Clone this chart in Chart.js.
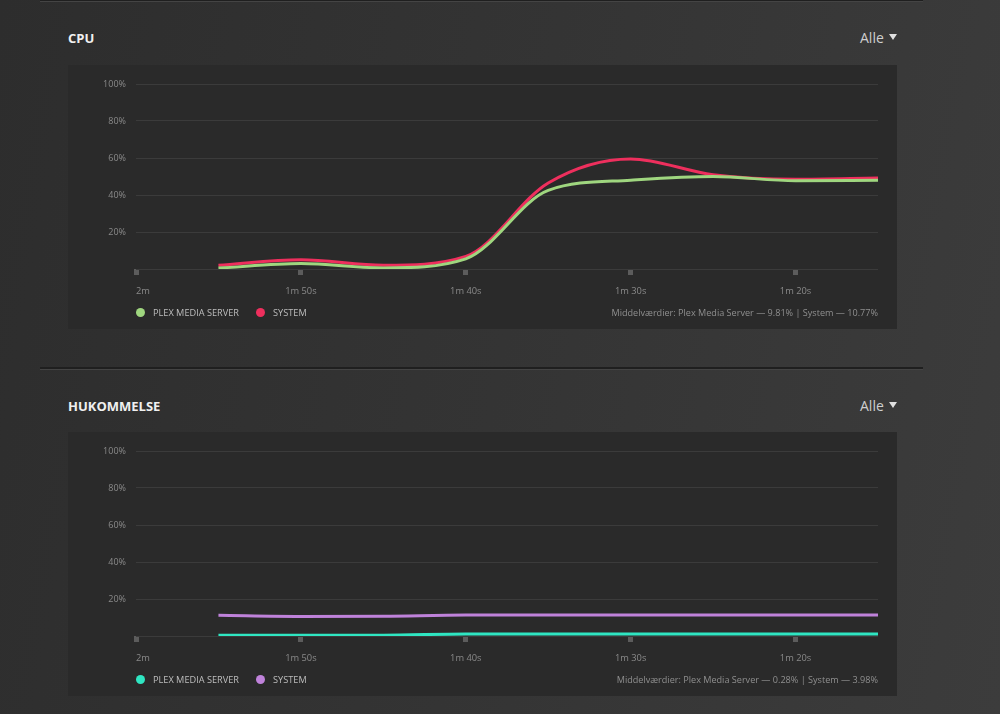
<!DOCTYPE html>
<html>
<head>
<meta charset="utf-8">
<script src="https://cdn.jsdelivr.net/npm/chart.js@4/dist/chart.umd.min.js"></script>
<style>
  html, body { margin: 0; padding: 0; }
  body {
    width: 1000px; height: 714px; overflow: hidden; position: relative;
    background: linear-gradient(100deg, #2d2d2d 0%, #343434 50%, #3c3c3c 100%);
    font-family: "Open Sans", "Noto Sans", sans-serif;
  }
  .sep { position: absolute; left: 40px; width: 883px; height: 2px; background: #1f1f1f; border-bottom: 1px solid #444; }
  .title { position: absolute; left: 68px; font-size: 13px; font-weight: bold; color: #f0f0f0; line-height: 16px; }
  .alle { position: absolute; left: 860px; font-size: 14px; color: #cfcfcf; line-height: 18px; }
  .alle span { display: inline-block; width: 0; height: 0; border-left: 4px solid transparent; border-right: 4px solid transparent;
               border-top: 6px solid #e0e0e0; margin-left: 5px; position: relative; top: -3px; }
  .panel { position: absolute; left: 68px; width: 829px; height: 264px; background: #2a2a2a; }
  .panel canvas { position: absolute; left: 0; top: 0; }
  .legend { position: absolute; left: 68px; top: 242px; font-size: 9.2px; color: #bdbdbd; line-height: 12px; white-space: nowrap; }
  .legend i { display: inline-block; width: 9px; height: 9px; border-radius: 50%; vertical-align: -1px; margin-right: 8px; }
  .legend b { font-weight: normal; margin-right: 17px; }
  .avg { position: absolute; right: 19px; top: 242px; font-size: 9.1px; color: #8f8f8f; line-height: 12px; }
</style>
</head>
<body>
<div class="sep" style="top:-1px"></div>
<div class="title" style="top:30px">CPU</div>
<div class="alle" style="top:29px">Alle<span></span></div>
<div class="panel" style="top:65px">
  <canvas id="cpu" width="829" height="264"></canvas>
  <div class="legend" id="cpuLegend"></div>
  <div class="avg">Middelværdier: Plex Media Server — 9.81% | System — 10.77%</div>
</div>

<div class="sep" style="top:367px"></div>
<div class="title" style="top:398px">HUKOMMELSE</div>
<div class="alle" style="top:397px">Alle<span></span></div>
<div class="panel" style="top:432px">
  <canvas id="mem" width="829" height="264"></canvas>
  <div class="legend" id="memLegend"></div>
  <div class="avg">Middelværdier: Plex Media Server — 0.28% | System — 3.98%</div>
</div>

<script>
// time axis, one point every 5 seconds
const timeLabels = ['2m', '1m 55s', '1m 50s', '1m 45s', '1m 40s', '1m 35s', '1m 30s', '1m 25s', '1m 20s', '1m 15s'];
const yTicks = [0, 20, 40, 60, 80, 100];

const cpuPlex   = [null, 0.5, 3.0, 0.6, 5.5, 42.5, 48.0, 50.0, 47.7, 48.0];
const cpuSystem = [null, 2.0, 5.0, 2.0, 6.8, 46.5, 59.5, 51.0, 48.5, 49.2];

const memPlex   = [null, 0.4, 0.4, 0.4, 1.1, 1.1, 1.1, 1.1, 1.1, 1.1];
const memSystem = [null, 11.2, 10.6, 10.7, 11.3, 11.3, 11.3, 11.3, 11.3, 11.3];

const seriesNames = ['PLEX MEDIA SERVER', 'SYSTEM'];

// x labels drawn by hand so the first one can sit left-aligned on its tick
const xLabelPlugin = {
    id: 'xLabels',
    afterDraw(chart) {
        const scale = chart.scales.x;
        const ctx = chart.ctx;
        ctx.save();
        ctx.font = '9.3px "Open Sans"';
        ctx.fillStyle = '#8a8a8a';
        ctx.textBaseline = 'middle';
        scale.ticks.forEach((t, i) => {
            if (i % 2) return;
            const x = scale.getPixelForTick(i);
            ctx.textAlign = i === 0 ? 'left' : 'center';
            ctx.fillText(timeLabels[i], x, scale.top + 22);
        });
        ctx.restore();
    }
};

function makeChart(id, legendId, data1, data2, colors) {
    const ctx = document.getElementById(id).getContext('2d');
    new Chart(ctx, {
        type: 'line',
        data: {
            labels: timeLabels,
            datasets: [{
                label: seriesNames[0],
                data: data1,
                borderColor: colors[0],
                borderWidth: 3,
                pointRadius: 0,
                cubicInterpolationMode: 'monotone',
                fill: false
            }, {
                label: seriesNames[1],
                data: data2,
                borderColor: colors[1],
                borderWidth: 3,
                pointRadius: 0,
                cubicInterpolationMode: 'monotone',
                fill: false
            }]
        },
        options: {
            responsive: false,
            animation: false,
            layout: { padding: { left: 0, right: 19, top: 19, bottom: 0 } },
            plugins: { legend: { display: false }, tooltip: { enabled: false } },
            scales: {
                x: {
                    border: { display: false },
                    grid: {
                        drawOnChartArea: false,
                        drawTicks: true,
                        tickLength: 6,
                        tickWidth: 5,
                        tickColor: c => c.index % 2 ? 'transparent' : '#5c5c5c'
                    },
                    ticks: { display: false, autoSkip: false },
                    afterFit: s => { s.height = 60; }
                },
                y: {
                    min: 0,
                    max: 100,
                    afterBuildTicks: s => { s.ticks = yTicks.map(v => ({ value: v })); },
                    border: { display: false },
                    grid: { color: '#3b3b3b', lineWidth: 1, drawTicks: false },
                    ticks: {
                        padding: 10,
                        color: '#8a8a8a',
                        font: { family: 'Open Sans', size: 9 },
                        callback: v => v === 0 ? '' : v + '%'
                    },
                    afterFit: s => { s.width = 68; }
                }
            }
        },
        plugins: [xLabelPlugin]
    });
    document.getElementById(legendId).innerHTML = seriesNames
        .map((n, i) => '<i style="background:' + colors[i] + '"></i><b>' + n + '</b>').join('');
}

makeChart('cpu', 'cpuLegend', cpuPlex, cpuSystem, ['#9fd67f', '#ee2f5d']);
makeChart('mem', 'memLegend', memPlex, memSystem, ['#2fe6c2', '#bf82da']);
</script>
</body>
</html>
